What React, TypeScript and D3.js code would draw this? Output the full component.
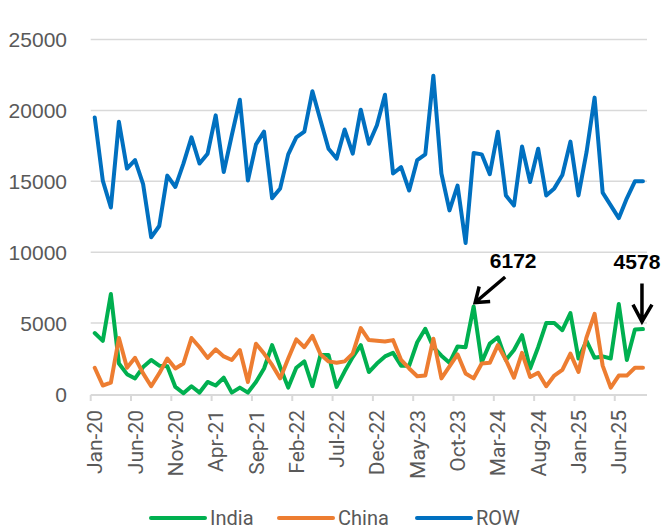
import React from "react";
import * as d3 from "d3";

// monthly categories Jan-20 .. Sep-25
const months = d3.timeMonth.range(new Date(2020, 0, 1), new Date(2025, 9, 1));
const monthLabels = months.map((d) => d3.timeFormat("%b-%y")(d));

const india = [
  4300, 3750, 7050, 2150, 1400, 1100, 1900, 2400, 2000, 1950, 500, 50, 550, 100, 850, 600, 1150, 100, 450, 100,
  850, 1800, 3450, 1900, 450, 1850, 2300, 550, 2750, 2750, 500, 1600, 2600, 3450, 1550, 2150, 2650, 2900, 2000,
  2000, 3650, 4600, 3300, 2700, 2200, 3350, 3300, 6172, 2250, 3550, 4000, 2400, 3100, 4150, 1800, 3300, 5000,
  5000, 4500, 5700, 2500, 3750, 2550, 2650, 2500, 6350, 2400, 4550, 4578,
];

const china = [
  1850, 600, 800, 3950, 1850, 2550, 1450, 550, 1450, 2500, 1800, 2150, 3950, 3300, 2550, 3150, 2650, 2400, 3100,
  850, 3550, 2850, 2050, 1100, 2500, 3850, 3300, 4100, 2800, 2300, 2200, 2300, 2850, 4650, 3800, 3750, 3700,
  3800, 2400, 1800, 1250, 1300, 3900, 1100, 1950, 2800, 1450, 1100, 2150, 2200, 3450, 2400, 1150, 2900, 1200,
  1500, 550, 1300, 1700, 2850, 1550, 4000, 5650, 2000, 450, 1300, 1300, 1850, 1850,
];

const row = [
  19500, 15050, 13150, 19200, 15900, 16500, 14800, 11050, 11850, 15400, 14600, 16250, 18100, 16250, 16950, 19650,
  15650, 18250, 20750, 15050, 17600, 18500, 13800, 14500, 16900, 18100, 18500, 21350, 19300, 17300, 16600, 18650,
  16950, 20050, 17650, 18950, 21100, 15550, 16000, 14350, 16500, 16900, 22450, 15550, 12950, 14700, 10650, 17000,
  16900, 15500, 18500, 14000, 13300, 17450, 14950, 17300, 14000, 14500, 15450, 17800, 14000, 17050, 20900, 14200,
  13300, 12400, 13800, 15000, 15000,
];

const yTicks = [0, 5000, 10000, 15000, 20000, 25000];

const seriesList = [
  { name: "India", values: india, color: "#00B050" },
  { name: "China", values: china, color: "#ED7D31" },
  { name: "ROW", values: row, color: "#0070C0" },
];

// annotated points: [index, value]
const callouts = [
  { idx: 47, value: 6172, dir: "diag" },
  { idx: 68, value: 4578, dir: "down" },
];

const W = 662;
const H = 531;
const margin = { top: 39.5, right: 15, bottom: 137, left: 90.7 };

export default function App() {
  const x = d3
    .scaleBand<number>()
    .domain(d3.range(months.length))
    .range([margin.left, W - margin.right]);
  const y = d3.scaleLinear().domain([0, 25000]).range([H - margin.bottom, margin.top]);
  const cx = (i: number) => (x(i) as number) + x.bandwidth() / 2;

  const line = (vals: number[]) =>
    d3
      .line<number>()
      .x((_, i) => cx(i))
      .y((d) => y(d))(vals) as string;

  const tickIdx = d3.range(0, months.length, 5);
  const grey = "#595959";
  const font = "Roboto, 'Liberation Sans', sans-serif";

  const legendX = [151, 279, 417];

  return (
    <svg
      width={W}
      height={H}
      style={{ position: "absolute", left: 0, top: 0, background: "#fff" }}
    >
      {/* gridlines */}
      {yTicks.map((t) => (
        <g key={t}>
          {t > 0 && (
            <line
              x1={margin.left}
              x2={W - margin.right}
              y1={y(t)}
              y2={y(t)}
              stroke="#D9D9D9"
              strokeWidth={1.5}
            />
          )}
          <text
            x={67}
            y={y(t)}
            dy="0.36em"
            textAnchor="end"
            fontFamily="'Liberation Sans', Arial, sans-serif"
            fontSize={21}
            fill={grey}
          >
            {t}
          </text>
        </g>
      ))}

      {/* x axis */}
      <line
        x1={margin.left}
        x2={W - margin.right}
        y1={y(0) + 1}
        y2={y(0) + 1}
        stroke="#D9D9D9"
        strokeWidth={2}
      />
      {tickIdx.map((i) => (
        <g key={i}>
          <line
            x1={x(i)}
            x2={x(i)}
            y1={y(0) + 1}
            y2={y(0) + 7}
            stroke="#D9D9D9"
            strokeWidth={2}
          />
          <text
            transform={`translate(${cx(i)},${y(0) + 16}) rotate(-90)`}
            textAnchor="end"
            dy="0.36em"
            fontFamily={font}
            fontSize={21}
            fill={grey}
          >
            {monthLabels[i]}
          </text>
        </g>
      ))}

      {/* series */}
      {seriesList.map((s) => (
        <path
          key={s.name}
          d={line(s.values)}
          fill="none"
          stroke={s.color}
          strokeWidth={4}
          strokeLinejoin="round"
          strokeLinecap="round"
        />
      ))}

      {/* callouts */}
      {callouts.map((c) => {
        const px = cx(c.idx);
        const py = y(c.value);
        if (c.dir === "diag") {
          const tx = px + 1.5;
          const ty = py - 4;
          return (
            <g key={c.idx}>
              <path
                d={`M${tx + 30},${ty - 25.5}L${tx},${ty}M${tx + 4},${ty - 16}L${tx},${ty}L${tx + 15},${ty - 1}`}
                fill="none"
                stroke="#000"
                strokeWidth={3.5}
              />
              <text
                x={tx + 38}
                y={ty - 34.5}
                textAnchor="middle"
                fontFamily="'Liberation Sans', Arial, sans-serif"
                fontWeight="bold"
                fontSize={21}
              >
                {c.value}
              </text>
            </g>
          );
        }
        const tx = px - 1;
        const ty = py - 7.5;
        return (
          <g key={c.idx}>
            <path
              d={`M${tx},${ty - 38}L${tx},${ty}M${tx - 9},${ty - 17}L${tx},${ty}L${tx + 10},${ty - 17}`}
              fill="none"
              stroke="#000"
              strokeWidth={3.5}
            />
            <text
              x={tx - 5}
              y={ty - 53}
              textAnchor="middle"
              fontFamily="'Liberation Sans', Arial, sans-serif"
              fontWeight="bold"
              fontSize={21}
            >
              {c.value}
            </text>
          </g>
        );
      })}

      {/* legend */}
      {seriesList.map((s, k) => (
        <g key={s.name} transform={`translate(${legendX[k]},518)`}>
          <line x1={0} x2={54} y1={0} y2={0} stroke={s.color} strokeWidth={4} strokeLinecap="round" />
          <text x={59} y={0} dy="0.33em" fontFamily={font} fontSize={20} fill={grey}>
            {s.name}
          </text>
        </g>
      ))}
    </svg>
  );
}
